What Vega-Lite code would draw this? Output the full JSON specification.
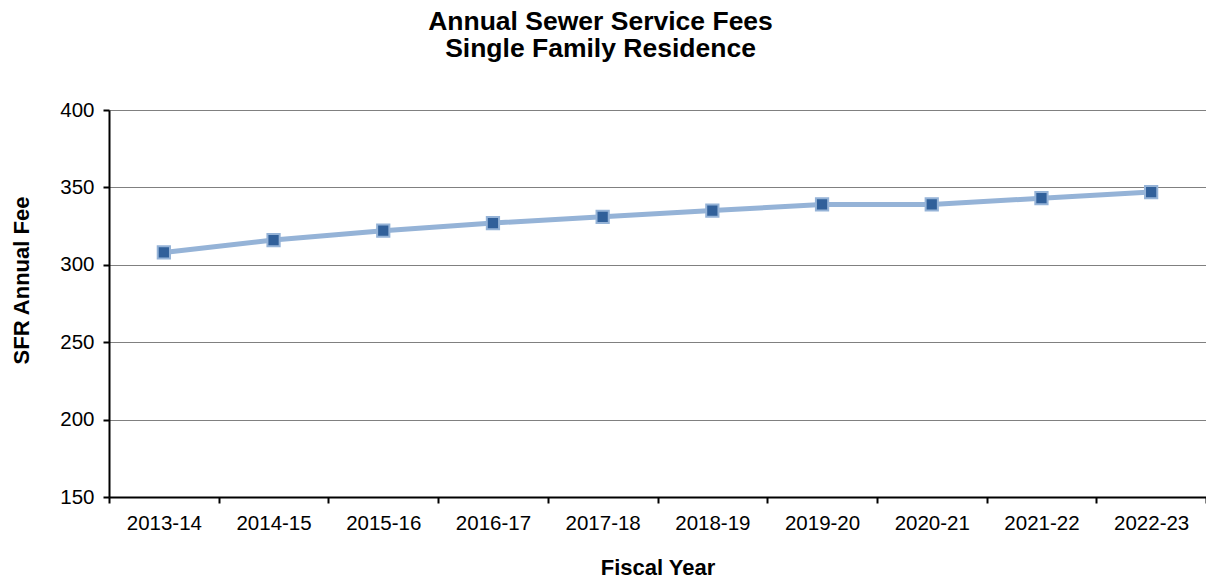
{
  "$schema": "https://vega.github.io/schema/vega-lite/v6.json",
  "autosize": {"type": "none"},
  "width": 1097,
  "height": 387,
  "padding": {"left": 109, "top": 110, "right": 0, "bottom": 79},
  "background": "white",
  "title": {
    "text": ["Annual Sewer Service Fees", "Single Family Residence"],
    "font": "Liberation Sans",
    "fontSize": 26.5,
    "fontWeight": "bold",
    "color": "black",
    "anchor": "middle",
    "dx": -57,
    "offset": 38,
    "lineHeight": 27
  },
  "data": {
    "values": [
      {"year": "2013-14", "fee": 308},
      {"year": "2014-15", "fee": 316},
      {"year": "2015-16", "fee": 322},
      {"year": "2016-17", "fee": 327},
      {"year": "2017-18", "fee": 331},
      {"year": "2018-19", "fee": 335},
      {"year": "2019-20", "fee": 339},
      {"year": "2020-21", "fee": 339},
      {"year": "2021-22", "fee": 343},
      {"year": "2022-23", "fee": 347}
    ]
  },
  "config": {
    "view": {"stroke": null},
    "axis": {
      "labelFont": "Liberation Sans",
      "labelFontSize": 20.5,
      "labelColor": "black",
      "titleFont": "Liberation Sans",
      "titleFontSize": 22,
      "titleFontWeight": "bold",
      "titleColor": "black",
      "domainColor": "black",
      "domainWidth": 2,
      "tickColor": "black",
      "tickWidth": 2,
      "tickSize": 6
    }
  },
  "encoding": {
    "x": {
      "field": "year", "type": "ordinal",
      "scale": {"type": "band", "paddingInner": 0, "paddingOuter": 0},
      "axis": {
        "title": "Fiscal Year",
        "labelAngle": 0,
        "tickBand": "extent",
        "labelPadding": 10,
        "titleY": 70,
        "titleBaseline": "middle"
      }
    },
    "y": {
      "field": "fee", "type": "quantitative",
      "scale": {"domain": [150, 400], "nice": false, "zero": false},
      "axis": {
        "title": "SFR Annual Fee",
        "values": [150, 200, 250, 300, 350, 400],
        "grid": true,
        "gridColor": "#808080",
        "gridWidth": 1.2,
        "labelPadding": 9,
        "titleX": -88,
        "titleY": 170,
        "titleBaseline": "middle"
      }
    }
  },
  "layer": [
    {
      "mark": {"type": "line", "color": "#95B3D7", "strokeWidth": 5}
    },
    {
      "mark": {"type": "point", "shape": "square", "filled": true, "size": 150, "fill": "#31609A", "stroke": "#95B3D7", "strokeWidth": 2, "opacity": 1}
    }
  ]
}
